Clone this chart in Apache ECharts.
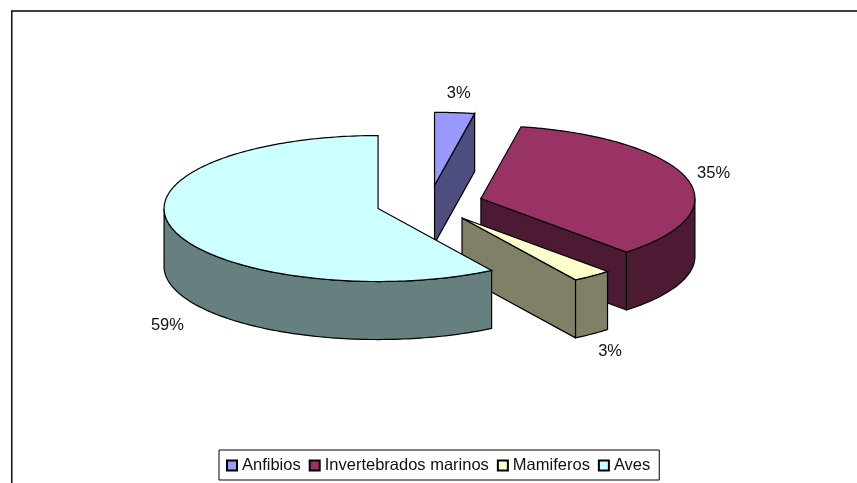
<!DOCTYPE html>
<html><head><meta charset="utf-8">
<style>html,body{margin:0;padding:0;background:#fff}#c{width:857px;height:483px}</style>
<script src="https://cdn.jsdelivr.net/npm/echarts@6/dist/echarts.min.js"></script>
</head><body><div id="c"></div>
<script>
const categories = ['Anfibios', 'Invertebrados marinos', 'Mamiferos', 'Aves'];
const values = [3, 35.1, 3, 58.9];
const topColors = ['#9999FF', '#993366', '#FFFFCC', '#CCFFFF'];
const sideColors = ['#4D4D80', '#4D1A33', '#808066', '#668080'];
const labelOffsets = [[4, -19], [27, -5], [18, 76], [-5, 97]];

const CX = 429.5, CY = 203.5, RX = 214, RY = 73, DEPTH = 58, EXPLODE = 0.25;
const total = values.reduce((a, b) => a + b, 0);
const STROKE = '#000';

function pt(c, a, dy) {
  return [c[0] + RX * Math.sin(a), c[1] - RY * Math.cos(a) + (dy || 0)];
}
function arc(c, a0, a1, dy) {
  const n = Math.max(2, Math.ceil(Math.abs(a1 - a0) / 0.02));
  const out = [];
  for (let i = 0; i <= n; i++) out.push(pt(c, a0 + (a1 - a0) * i / n, dy));
  return out;
}
function poly(points, fill) {
  return { type: 'polygon', shape: { points }, style: { fill, stroke: STROKE, lineWidth: 1.2 } };
}
function sliceItem(i) {
  let before = 0;
  for (let k = 0; k < i; k++) before += values[k];
  const a0 = before / total * 2 * Math.PI;
  const a1 = (before + values[i]) / total * 2 * Math.PI;
  const m = (a0 + a1) / 2;
  const c = [CX + EXPLODE * RX * Math.sin(m), CY - EXPLODE * RY * Math.cos(m)];
  const kids = [];
  const w0 = Math.max(a0, Math.PI / 2), w1 = Math.min(a1, 3 * Math.PI / 2);
  if (Math.sin(a1) > 1e-6) {
    const e = pt(c, a1);
    kids.push(poly([c, e, [e[0], e[1] + DEPTH], [c[0], c[1] + DEPTH]], sideColors[i]));
  }
  if (w1 > w0) {
    kids.push(poly(arc(c, w0, w1).concat(arc(c, w1, w0, DEPTH)), sideColors[i]));
  }
  kids.push(poly([c].concat(arc(c, a0, a1)), topColors[i]));
  const lp = pt(c, m);
  kids.push({
    type: 'text',
    style: {
      text: Math.round(values[i] / total * 100) + '%',
      x: lp[0] + labelOffsets[i][0], y: lp[1] + labelOffsets[i][1],
      fill: '#111', font: '16.5px "Liberation Sans", Arial, sans-serif',
      align: 'center', verticalAlign: 'middle'
    }
  });
  return { type: 'group', children: kids };
}

const series = categories.map((name, i) => ({
  name,
  type: 'custom',
  coordinateSystem: 'none',
  silent: true,
  animation: false,
  z: 2 + i,
  itemStyle: { color: topColors[i], borderColor: '#000', borderWidth: 1 },
  data: [values[i]],
  renderItem: () => sliceItem(i)
}));

const chart = echarts.init(document.getElementById('c'), null, { renderer: 'canvas' });
chart.setOption({
  animation: false,
  backgroundColor: '#fff',
  legend: {
    data: categories.map(name => ({ name, icon: 'rect' })),
    left: 219, top: 450,
    orient: 'horizontal',
    itemWidth: 10, itemHeight: 10, itemGap: 8,
    padding: [7, 9, 6, 7],
    borderColor: '#000', borderWidth: 1, backgroundColor: '#fff',
    selectedMode: false,
    textStyle: { fontFamily: '"Liberation Sans", Arial, sans-serif', fontSize: 16.5, color: '#111' }
  },
  graphic: [
    { type: 'line', silent: true, shape: { x1: 11, y1: 11, x2: 857, y2: 11 }, style: { stroke: '#000', lineWidth: 1.4 } },
    { type: 'line', silent: true, shape: { x1: 11.8, y1: 11, x2: 11.8, y2: 483 }, style: { stroke: '#000', lineWidth: 1.4 } }
  ],
  series
});
</script></body></html>
